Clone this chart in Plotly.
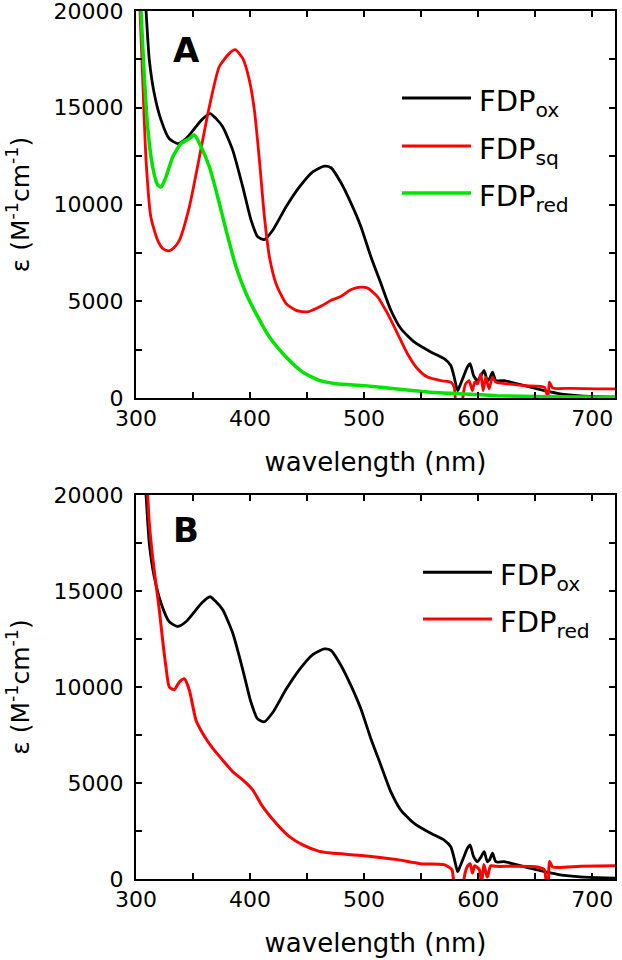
import plotly.graph_objects as go

# ---------------- data ----------------
wl_ox = [306, 308.8, 311.7, 316, 322, 329, 336.5, 344, 352.6, 358, 365, 370, 376, 384.8,
         393.6, 400.9, 406.7, 412.6, 419.9, 431.6, 443.3, 455, 465.2, 471, 479.5, 488.3,
         497, 505.8, 514.6, 523.4, 532.2, 543.9, 558.5, 570.2, 576, 579, 582, 584, 587,
         590.6, 593, 596, 599.4, 602, 605.3, 608, 610, 612.6, 615.5, 622.8, 634.5, 652,
         669.6, 687, 704.7, 722]
eps_ox = [22500, 20000, 17460, 15740, 14360, 13410, 13150, 13410, 14020, 14400, 14700, 14450,
          14020, 12810, 10910, 9190, 8330, 8190, 8670, 9880, 10910, 11690, 11980, 11900,
          11150, 10100, 8890, 7330, 5940, 4550, 3590, 2900, 2380, 2030, 1680, 1080, 380,
          640, 1080, 1600, 1770, 1160, 900, 1100, 1420, 900, 1000, 1340, 900, 900, 730,
          470, 240, 120, 70, 35]

wl_sq = [302, 303.5, 305.8, 308.8, 313, 319, 324, 329, 333, 338, 346.8, 355.6, 364.3, 373,
         381.9, 387, 393.6, 399.4, 403.8, 408.2, 412.6, 417, 422.8, 431.6, 440.4, 450.6,
         463.7, 471, 479.5, 488.3, 497, 503, 511.7, 520.5, 529.3, 538, 546.8, 555.6, 567.3,
         576, 579, 581, 585, 587.5, 589, 592, 595, 597, 599.4, 602.3, 604.4, 606.7, 609.6,
         612.6, 615.5, 625.8, 640.4, 658, 660.5, 661.5, 662.5, 665.4, 681.5, 704.7, 722]
eps_sq = [22200, 20000, 16600, 12290, 9360, 8150, 7700, 7600, 7750, 8150, 9880, 12460, 15050,
          17120, 17810, 18000, 17550, 16430, 14880, 12290, 9360, 7290, 5910, 4880, 4530,
          4450, 4790, 5050, 5240, 5590, 5730, 5680, 5240, 4370, 3330, 2290, 1510, 1080, 900,
          820, 560, -400, -400, 400, 730, 900, 380, 820, 730, 1250, 380, 1080, 470, 1080,
          820, 730, 640, 560, 150, 200, 820, 520, 500, 470, 470]

wl_redA = [302.5, 304.4, 307.3, 310.2, 314.6, 319, 322, 326.3, 332.2, 339.5, 346.8, 351.2,
           357, 364.3, 371.6, 379, 387.7, 396.5, 405.3, 417, 431.6, 446.2, 460.8, 475.4,
           500, 529, 558.5, 588, 617, 661, 722]
eps_redA = [22500, 20000, 16600, 14020, 11950, 11000, 10910, 11430, 12460, 13150, 13410,
            13590, 12980, 11950, 10400, 8670, 6780, 5400, 4360, 3150, 2120, 1340, 910, 740,
            640, 470, 300, 210, 120, 60, 40]

wl_redB = [308, 310.2, 311.7, 314.6, 317.5, 320.5, 323.4, 326.3, 329.2, 333.6, 338, 342.4,
           346.8, 352.6, 358.5, 367.3, 376, 384.8, 393.6, 402.3, 411.1, 422.8, 434.5, 446.2,
           460.8, 471, 500, 529, 549, 570, 577, 579.5, 586, 588.5, 590.6, 593, 595, 597, 601,
           603, 605, 608, 611, 615.5, 631.6, 652, 658, 660, 661.5, 662.5, 665.4, 690, 722]
eps_redB = [22200, 20000, 18480, 16750, 15360, 13980, 12420, 11040, 10000, 9860, 10260, 10430,
            9830, 8270, 7580, 6800, 6190, 5590, 5160, 4640, 3770, 2910, 2210, 1780, 1440,
            1350, 1215, 1010, 800, 750, 490, -400, -400, 300, 660, 800, 310, 690, 490, -200,
            750, 100, 690, 660, 660, 625, 490, -300, -100, 920, 625, 660, 690]

names_A = ["FDP<sub>ox</sub>", "FDP<sub>sq</sub>", "FDP<sub>red</sub>"]
names_B = ["FDP<sub>ox</sub>", "FDP<sub>red</sub>"]
x_ticks = [300, 400, 500, 600, 700]
y_ticks = [0, 5000, 10000, 15000, 20000]

BLACK, RED, GREEN = "#000000", "#ff0000", "#00e400"
FONT = "DejaVu Sans"

fig = go.Figure()
def line(x, y, color, name, xa, ya, w=2.8):
    fig.add_trace(go.Scatter(x=x, y=y, mode="lines", name=name, xaxis=xa, yaxis=ya,
                             line=dict(color=color, width=w, shape="spline", smoothing=0.6),
                             showlegend=False))

line(wl_ox, eps_ox, BLACK, names_A[0], "x", "y")
line(wl_sq, eps_sq, RED, names_A[1], "x", "y")
line(wl_redA, eps_redA, GREEN, names_A[2], "x", "y", w=3.5)
line(wl_ox, eps_ox, BLACK, names_B[0], "x2", "y2")
line(wl_redB, eps_redB, RED, names_B[1], "x2", "y2", w=3.0)

def xax(anchor):
    return dict(range=[300, 720], tickvals=x_ticks, ticks="inside", ticklen=6, tickwidth=2,
                tickcolor="black", showline=True, linewidth=2, linecolor="black",
                mirror="ticks", showgrid=False, zeroline=False, anchor=anchor, automargin=False,
                ticklabeloverflow="allow",
                minor=dict(tickvals=[350, 450, 550, 650], ticks="inside", ticklen=6,
                           tickwidth=2, tickcolor="black"),
                tickfont=dict(family=FONT, size=22, color="black"),
                title=dict(text="wavelength (nm)", font=dict(family=FONT, size=26, color="black"),
                           standoff=22))

def yax(anchor, domain):
    return dict(range=[0, 20000], tickvals=y_ticks, tickformat="d", ticks="inside", ticklen=6,
                tickwidth=2, tickcolor="black", showline=True, linewidth=2, linecolor="black",
                mirror="ticks", showgrid=False, zeroline=False, anchor=anchor, domain=domain,
                automargin=False, ticklabeloverflow="allow",
                minor=dict(tickvals=[2500, 7500, 12500, 17500], ticks="inside", ticklen=6,
                           tickwidth=2, tickcolor="black"),
                ticklabelstandoff=6,
                tickfont=dict(family=FONT, size=22, color="black"),
                title=dict(text="ε (M<sup>-1</sup>cm<sup>-1</sup>)",
                           font=dict(family=FONT, size=25, color="black"), standoff=17))

H = 960
top, bot = 11, 81
ph = H - top - bot
dA = [(879 - 398) / ph, 1.0]
dB = [0.0, (879 - 495) / ph]

fig.update_layout(
    width=622, height=H,
    margin=dict(l=136, r=7, t=top, b=bot, autoexpand=False),
    paper_bgcolor="white", plot_bgcolor="white",
    xaxis=xax("y"), yaxis=yax("x", dA),
    xaxis2=xax("y2"), yaxis2=yax("x2", dB),
    showlegend=False,
)

# panel letters
fig.add_annotation(text="<b>A</b>", xref="x domain", yref="y domain", x=0.105, y=0.898,
                   xanchor="center", yanchor="middle",
                   showarrow=False, font=dict(family=FONT, size=34, color="black"))
fig.add_annotation(text="<b>B</b>", xref="x2 domain", yref="y2 domain", x=0.104, y=0.909,
                   xanchor="center", yanchor="middle",
                   showarrow=False, font=dict(family=FONT, size=34, color="black"))

# legends (line sample + label)
def legend_item(xr, yr, x0, x1, y, color, text, w):
    fig.add_shape(type="line", xref=xr, yref=yr, x0=x0, x1=x1, y0=y, y1=y,
                  line=dict(color=color, width=w))
    fig.add_annotation(text=text, xref=xr, yref=yr, x=x1 + 0.012, y=y, xanchor="left",
                       yanchor="middle", yshift=-5, showarrow=False,
                       font=dict(family=FONT, size=29, color="black"))

legend_item("x domain", "y domain", 0.5553, 0.6994, 0.775, BLACK, names_A[0], 3)
legend_item("x domain", "y domain", 0.5553, 0.6994, 0.651, RED, names_A[1], 3)
legend_item("x domain", "y domain", 0.5553, 0.6994, 0.530, GREEN, names_A[2], 3.5)
legend_item("x2 domain", "y2 domain", 0.5992, 0.7432, 0.799, BLACK, names_B[0], 3)
legend_item("x2 domain", "y2 domain", 0.5992, 0.7432, 0.677, RED, names_B[1], 3)

fig.write_html("out.html", config={"displayModeBar": False},
               post_script="document.body.style.margin='0px';")
